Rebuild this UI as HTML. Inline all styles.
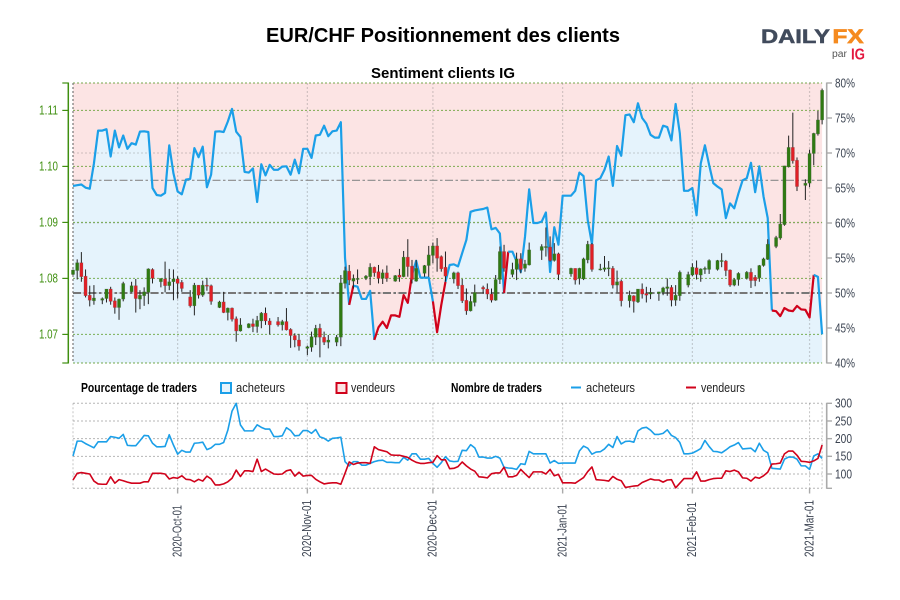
<!DOCTYPE html>
<html lang="fr">
<head>
<meta charset="utf-8">
<title>EUR/CHF Positionnement des clients</title>
<style>
html,body{margin:0;padding:0;background:#fff;width:900px;height:600px;overflow:hidden}
svg{display:block;font-family:"Liberation Sans Narrow","Liberation Sans",sans-serif}
.wide{font-family:"Liberation Sans",sans-serif}
</style>
</head>
<body>
<svg id="chart" xmlns="http://www.w3.org/2000/svg" width="900" height="600" viewBox="0 0 900 600">
  <rect width="900" height="600" fill="#fff"/>
  <text class="wide" x="266" y="42" font-size="20" font-weight="bold" fill="#000" textLength="354" lengthAdjust="spacingAndGlyphs">EUR/CHF Positionnement des clients</text>
  <text class="wide" x="371" y="78" font-size="15" font-weight="bold" fill="#000" textLength="144" lengthAdjust="spacingAndGlyphs">Sentiment clients IG</text>

  <g>
    <text class="wide" x="761" y="43" font-size="19.5" font-weight="bold" fill="#414b5c" stroke="#414b5c" stroke-width=".5" textLength="69" lengthAdjust="spacingAndGlyphs">DAILY</text>
    <text class="wide" x="832.500" y="43" font-size="19.5" font-weight="bold" fill="#f58a1f" stroke="#f58a1f" stroke-width=".7" textLength="31" lengthAdjust="spacingAndGlyphs">FX</text>
    <text class="wide" x="832" y="57" font-size="10" fill="#555" textLength="15" lengthAdjust="spacingAndGlyphs">par</text>
    <text class="wide" x="851" y="59.500" font-size="15.500" font-weight="bold" fill="#e3173e" textLength="14" lengthAdjust="spacingAndGlyphs">IG</text>
  </g>

  <g id="upper-panel"></g>
  <g id="lower-panel"></g>

  <g font-size="12.5" fill="#222">
    <text x="81" y="392" font-weight="bold" fill="#000" textLength="116" lengthAdjust="spacingAndGlyphs">Pourcentage de traders</text>
    <rect x="221" y="383" width="10" height="10" fill="#e5f3fc" stroke="#1b9fe8" stroke-width="2"/>
    <text x="236" y="392" textLength="49" lengthAdjust="spacingAndGlyphs">acheteurs</text>
    <rect x="336.500" y="383" width="10" height="10" fill="#fce4e4" stroke="#d0021b" stroke-width="2"/>
    <text x="351" y="392" textLength="44" lengthAdjust="spacingAndGlyphs">vendeurs</text>
    <text x="451" y="392" font-weight="bold" fill="#000" textLength="91" lengthAdjust="spacingAndGlyphs">Nombre de traders</text>
    <line x1="571" x2="581" y1="387.500" y2="387.500" stroke="#1b9fe8" stroke-width="2"/>
    <text x="586" y="392" textLength="49" lengthAdjust="spacingAndGlyphs">acheteurs</text>
    <line x1="686" x2="696" y1="387.500" y2="387.500" stroke="#d0021b" stroke-width="2"/>
    <text x="701" y="392" textLength="44" lengthAdjust="spacingAndGlyphs">vendeurs</text>
  </g>
</svg>
<script>
// ---- data ----
// Day index 0 = 2020-09-06, one entry per calendar day through 2021-03-04.
const sentimentPct = [65.3,65.4,65.5,65.05,64.9,68.5,73.2,73.2,73.4,69.5,73.2,70.8,72.5,70.6,71.4,71.2,73.05,73.1,73,65,64,63.9,64.3,71.1,67.1,64.5,64.1,66.2,66.3,70.7,69.4,70.9,65.1,66.9,73.05,73.1,73,74.5,76.3,73.05,72.3,67.3,67.2,67.8,63,68.4,66.8,68.3,67.6,67.6,68.05,68.1,66.9,69.05,67.1,70.6,70.6,69.3,72.5,72.6,73.9,72.4,73.1,73.2,74.4,55,48.3,51.05,50.9,49.15,49.15,50.3,43.3,45.1,45.9,45,46.8,46.8,46.6,49.7,48.6,52.6,54.6,52.2,52.2,52.2,48.8,44.4,48.3,51.6,54,54.1,53.8,55.7,57.6,61.6,61.8,61.9,62,62.2,59.1,59.3,58.5,50,55.9,55.9,54.5,53,58,64.8,60,60,60.2,61.5,53,59.4,56.9,63.9,63.9,63.9,64.6,67.2,66.7,60.4,57,66.1,66.4,67.6,69.5,65.3,71,69.6,75.4,75.5,74.4,77.1,75,74.2,72.6,72.2,72.2,73.9,73.7,71.8,77,72.8,64.6,64.6,65,61.1,68.5,71.1,68.3,65.7,65.2,64.8,60.7,62.8,62.1,64.2,66.1,66.4,68.6,64.4,68.1,63.8,60.7,47.5,47.4,46.7,47.85,47.5,47.4,48.15,47.65,47.6,46.5,52.6,52.3,44.1];
// Day-index ranges where the sentiment line is drawn in the seller colour.
const sellerRuns = [[66,67],[72,81],[86,89],[103,104],[167,177]];
const buyersCount = [151,193,193,186,180,174,191,191,191,206,204,201,212,181,180,180,194,209,208,187,177,177,178,211,182,156,167,162,162,187,188,190,169,174,184,184,189,224,278,300,239,222,222,222,239,232,227,227,206,206,208,231,223,208,209,223,223,215,226,205,201,193,201,202,204,135,123,135,135,125,125,130,135,138,139,133,133,132,132,147,139,157,157,142,142,144,130,119,132,149,137,135,136,167,166,183,174,148,148,145,145,150,145,119,117,116,113,129,127,164,157,157,157,157,131,138,130,131,131,131,131,165,179,173,156,162,163,171,184,175,206,185,192,193,190,222,230,232,224,212,212,215,225,209,203,189,157,157,159,165,172,195,178,164,163,160,168,177,182,189,171,172,173,163,187,167,160,116,115,114,142,148,148,142,123,123,113,151,157,144];
const sellersCount = [83,102,104,102,100,80,72,71,71,92,74,84,81,77,74,74,74,78,78,102,102,102,100,86,90,88,95,85,84,78,85,80,94,86,69,69,72,78,88,111,93,109,109,107,142,107,114,107,100,99,100,109,112,94,105,94,96,96,85,78,72,74,75,75,71,102,134,127,131,132,132,130,177,169,166,163,154,153,153,150,147,139,133,130,130,132,133,152,140,140,115,116,121,134,123,114,108,92,91,89,101,103,103,119,92,92,96,113,101,90,106,106,106,100,113,95,99,75,75,75,74,82,90,107,120,84,83,82,80,93,85,81,62,64,66,67,76,81,86,83,83,77,83,84,61,74,87,87,87,106,80,80,84,87,88,88,109,107,111,106,89,88,80,91,88,95,105,128,129,131,157,165,165,153,136,135,133,137,144,182];
// EUR/CHF candles, prices in units of 0.0001.
const candleDays = [0,1,2,3,4,5,7,8,9,10,11,12,14,15,16,17,18,19,21,22,23,24,25,26,28,29,30,31,32,33,35,36,37,38,39,40,42,43,44,45,46,47,49,50,51,52,53,54,56,57,58,59,60,61,63,64,65,66,67,68,70,71,72,73,74,75,77,78,79,80,81,82,84,85,86,87,88,89,91,92,93,94,95,96,98,99,100,101,102,103,105,106,107,108,109,112,113,114,115,116,119,120,121,122,123,124,126,127,128,129,130,131,133,134,135,136,137,138,140,141,142,143,144,145,147,148,149,150,151,152,154,155,156,157,158,159,161,162,163,164,165,166,168,169,170,171,172,173,175,176,177,178,179];
const candleOpen = [10807,10814,10828,10804,10770,10760,10761,10764,10781,10760,10748,10763,10776,10787,10763,10769,10775,10816,10794,10799,10787,10794,10799,10793,10767,10751,10788,10770,10788,10787,10748,10758,10739,10747,10728,10706,10712,10719,10714,10724,10738,10724,10723,10717,10723,10709,10698,10690,10675,10677,10695,10711,10695,10686,10686,10695,10791,10813,10795,10798,10800,10803,10820,10812,10800,10810,10795,10806,10803,10838,10822,10795,10809,10823,10841,10858,10839,10820,10799,10810,10788,10761,10742,10757,10784,10781,10772,10761,10798,10848,10807,10816,10835,10818,10824,10850,10855,10856,10832,10844,10808,10818,10800,10799,10833,10861,10815,10816,10817,10818,10788,10795,10760,10769,10758,10781,10773,10772,10773,10775,10782,10784,10761,10769,10788,10806,10819,10806,10816,10816,10816,10830,10831,10815,10788,10798,10800,10811,10802,10801,10823,10834,10857,10872,10896,10999,11034,11011,10966,10970,11023,11058,11083];
const candleHigh = [10816,10834,10847,10816,10787,10788,10766,10781,10785,10766,10764,10794,10794,10799,10779,10784,10818,10818,10800,10830,10817,10816,10804,10797,10779,10792,10788,10796,10801,10789,10760,10776,10748,10748,10732,10729,10720,10728,10733,10740,10748,10729,10731,10726,10747,10711,10702,10701,10680,10705,10717,10719,10705,10699,10699,10806,10821,10824,10807,10816,10806,10827,10821,10824,10816,10823,10806,10817,10849,10870,10833,10833,10824,10858,10864,10872,10841,10848,10812,10812,10799,10782,10769,10789,10787,10791,10782,10806,10857,10860,10828,10846,10845,10833,10864,10861,10891,10875,10863,10846,10819,10818,10819,10837,10867,10863,10826,10840,10831,10822,10814,10798,10778,10770,10781,10791,10785,10783,10776,10785,10800,10788,10788,10814,10812,10827,10832,10818,10821,10834,10833,10845,10833,10816,10800,10811,10813,10818,10806,10824,10837,10870,10876,10915,11001,11055,11096,11016,10977,11030,11060,11099,11139];
const candleLow = [10806,10798,10794,10766,10750,10753,10754,10757,10753,10737,10726,10759,10775,10739,10745,10751,10754,10791,10784,10775,10779,10761,10764,10776,10748,10734,10764,10767,10778,10753,10747,10738,10725,10723,10687,10705,10711,10704,10703,10711,10717,10700,10714,10707,10707,10676,10677,10671,10663,10669,10681,10659,10681,10675,10679,10679,10782,10788,10782,10790,10797,10788,10803,10791,10790,10794,10794,10794,10802,10803,10791,10794,10803,10803,10827,10812,10812,10794,10791,10781,10756,10735,10741,10750,10773,10763,10757,10760,10790,10812,10802,10797,10809,10812,10823,10833,10839,10830,10830,10797,10803,10789,10789,10797,10827,10812,10814,10812,10804,10782,10775,10750,10748,10739,10756,10764,10757,10763,10760,10770,10769,10750,10751,10760,10784,10804,10798,10794,10808,10808,10814,10820,10804,10785,10786,10787,10798,10783,10786,10794,10821,10833,10854,10869,10894,10998,11005,10956,10940,10963,11002,11055,11075];
const candleClose = [10815,10828,10803,10769,10761,10765,10764,10781,10759,10748,10763,10791,10787,10764,10770,10776,10817,10800,10800,10787,10794,10799,10791,10782,10751,10788,10770,10788,10786,10759,10758,10739,10747,10727,10706,10717,10719,10714,10725,10738,10724,10717,10717,10723,10708,10698,10690,10679,10678,10696,10711,10695,10686,10690,10695,10792,10814,10797,10800,10800,10804,10820,10810,10800,10810,10800,10805,10802,10838,10821,10798,10818,10823,10842,10858,10836,10817,10804,10810,10787,10760,10742,10759,10775,10781,10772,10761,10798,10848,10818,10816,10835,10816,10826,10851,10857,10857,10832,10844,10807,10818,10797,10818,10835,10861,10816,10817,10819,10819,10788,10794,10760,10770,10759,10781,10772,10770,10775,10776,10783,10785,10761,10770,10811,10807,10820,10807,10817,10818,10832,10832,10832,10814,10788,10798,10809,10811,10796,10796,10823,10835,10861,10873,10897,11001,11034,11010,10964,10970,11023,11059,11083,11136];
// Axis ticks and labels.
const priceTicks = [1.07,1.08,1.09,1.10,1.11];
const priceTickLabels = ['1.07','1.08','1.09','1.10','1.11'];
const pctTicks = [40,45,50,55,60,65,70,75,80];
const pctGridTicks = [40,50,60,70,80];
const countTicks = [100,150,200,250,300];
const dateTickDays = [25,56,86,117,148,176];
const dateTickLabels = ['2020-Oct-01','2020-Nov-01','2020-Dec-01','2021-Jan-01','2021-Feb-01','2021-Mar-01'];
const dateLabelLengths = [52,57,57,53,55,57];
const referenceLevels = [{pct:66.1,width:1.2,color:'#8a8a8a'},{pct:50,width:2,color:'#777'}];

// ---- axis functions ----
const xDay = d => 73 + 4.185 * d;
const yPct = p => 83 + (80 - p) * 7;
const yPrice = p => 334.4 - (p - 1.07) * 5600;
const yCount = v => 403.3 + (300 - v) * 0.3535;

const NS = 'http://www.w3.org/2000/svg';
const upper = document.getElementById('upper-panel');
const lower = document.getElementById('lower-panel');
function make(parent, tag, attrs, text) {
  const el = document.createElementNS(NS, tag);
  for (const k in attrs) el.setAttribute(k, attrs[k]);
  if (text !== undefined) el.textContent = text;
  parent.appendChild(el);
  return el;
}
const LAST = sentimentPct.length - 1;
let el;

// ---- upper panel ----
el = make(upper, 'rect', {x: xDay(0), y: yPct(80), width: xDay(LAST) - xDay(0), height: yPct(40) - yPct(80), fill: '#fce4e4'});



const areaPoints = sentimentPct.map((v, i) => xDay(i).toFixed(2) + ',' + yPct(v).toFixed(2));
areaPoints.push(xDay(LAST) + ',' + yPct(40), xDay(0) + ',' + yPct(40));
el = make(upper, 'polygon', {points: areaPoints.join(' '), fill: '#e5f3fc'});



pctGridTicks.forEach(t => {
  el = make(upper, 'line', {x1: xDay(0), x2: xDay(LAST), y1: yPct(t), y2: yPct(t), stroke: 'rgba(110,110,110,.32)', 'stroke-width': 1, 'stroke-dasharray': '2 2'});
  
  
});
[yPct(80), yPct(40)].concat(priceTicks.map(yPrice)).forEach(y => {
  el = make(upper, 'line', {x1: xDay(0), x2: xDay(LAST), y1: y, y2: y, stroke: '#5d9e2a', 'stroke-opacity': .8, 'stroke-width': 1, 'stroke-dasharray': '2 2'});
  
  
});
dateTickDays.forEach(d => {
  el = make(upper, 'line', {x1: xDay(d), x2: xDay(d), y1: 83, y2: 363, stroke: 'rgba(110,110,110,.3)', 'stroke-width': 1.2, 'stroke-dasharray': '2 2'});
  
  
});
el = make(upper, 'line', {x1: xDay(0), x2: xDay(0), y1: 83, y2: 363, stroke: '#777', 'stroke-width': 1.2, 'stroke-dasharray': '2 2'});



referenceLevels.forEach(r => {
  el = make(upper, 'line', {x1: xDay(0), x2: xDay(LAST), y1: yPct(r.pct), y2: yPct(r.pct), stroke: r.color, 'stroke-width': r.width, 'stroke-dasharray': '8 2.5 2.5 2.5'});
  
  
});

// sentiment line, split into buyer / seller coloured segments
const isSeller = i => sellerRuns.some(r => i >= r[0] && i < r[1]);
let segStart = 0;
for (let i = 1; i <= LAST; i++) {
  if (i === LAST || isSeller(i) !== isSeller(segStart)) {
    const pts = [];
    for (let j = segStart; j <= i; j++) pts.push(xDay(j).toFixed(2) + ',' + yPct(sentimentPct[j]).toFixed(2));
    el = make(upper, 'polyline', {points: pts.join(' '), fill: 'none', stroke: isSeller(segStart) ? '#d0021b' : '#1b9fe8', 'stroke-width': 2.2, 'stroke-linejoin': 'round'});
    
    
    segStart = i;
  }
}

// candles
candleDays.forEach((d, i) => {
  const o = candleOpen[i] / 10000, c = candleClose[i] / 10000;
  const h = candleHigh[i] / 10000, l = candleLow[i] / 10000;
  const up = c >= o;
  const x = xDay(d);
  el = make(upper, 'line', {x1: x, x2: x, y1: yPrice(h), y2: yPrice(l), stroke: '#222', 'stroke-width': 1});
  
  
  const top = yPrice(Math.max(o, c));
  const hgt = Math.max(yPrice(Math.min(o, c)) - top, 1);
  el = make(upper, 'rect', {x: x - 1.6, y: top, width: 3.2, height: hgt, fill: up ? '#2f7a12' : '#e01f26', stroke: 'rgba(90,90,90,.35)', 'stroke-width': .6});
  
  
});

// left price axis
el = make(upper, 'line', {x1: 68.3, x2: 68.3, y1: 82.5, y2: 363.5, stroke: '#3f8f10', 'stroke-width': 1.5});


[yPct(80), yPct(40)].forEach(y => {
  el = make(upper, 'line', {x1: 62.3, x2: 68.3, y1: y, y2: y, stroke: '#3f8f10', 'stroke-width': 1.2});
  
  
});
priceTicks.forEach((t, i) => {
  const y = yPrice(t);
  el = make(upper, 'line', {x1: 62.3, x2: 68.3, y1: y, y2: y, stroke: '#3f8f10', 'stroke-width': 1.2});
  
  
  el = make(upper, 'text', {x: 39, y: y + 4.3, 'font-size': 12.5, fill: '#3f8f10', textLength: 19, lengthAdjust: 'spacingAndGlyphs'}, priceTickLabels[i]);
  
  
});

// right percent axis
el = make(upper, 'line', {x1: 826.7, x2: 826.7, y1: 82.5, y2: 363.5, stroke: '#aaa', 'stroke-width': 1.6});


pctTicks.forEach(t => {
  const y = yPct(t);
  el = make(upper, 'line', {x1: 826.7, x2: 832, y1: y, y2: y, stroke: '#aaa', 'stroke-width': 1.4});
  
  
  el = make(upper, 'text', {x: 835, y: y + 4.3, 'font-size': 12.5, fill: '#3a4250', textLength: 20, lengthAdjust: 'spacingAndGlyphs'}, t + '%');
  
  
});

// ---- lower panel ----
const countBottom = 488.3;
countTicks.forEach(t => {
  el = make(lower, 'line', {x1: xDay(0), x2: xDay(LAST), y1: yCount(t), y2: yCount(t), stroke: 'rgba(110,110,110,.5)', 'stroke-width': 1, 'stroke-dasharray': '2 2'});
  
  
});
el = make(lower, 'line', {x1: xDay(0), x2: xDay(LAST), y1: countBottom, y2: countBottom, stroke: 'rgba(110,110,110,.5)', 'stroke-width': 1, 'stroke-dasharray': '2 2'});


[0, LAST].concat(dateTickDays).forEach(d => {
  el = make(lower, 'line', {x1: xDay(d), x2: xDay(d), y1: yCount(300), y2: countBottom, stroke: 'rgba(110,110,110,.4)', 'stroke-width': 1, 'stroke-dasharray': '2 2'});
  
  
});
const linePoints = arr => arr.map((v, i) => xDay(i).toFixed(2) + ',' + yCount(v).toFixed(2)).join(' ');
el = make(lower, 'polyline', {points: linePoints(buyersCount), fill: 'none', stroke: '#1b9fe8', 'stroke-width': 1.6, 'stroke-linejoin': 'round'});


el = make(lower, 'polyline', {points: linePoints(sellersCount), fill: 'none', stroke: '#d0021b', 'stroke-width': 1.6, 'stroke-linejoin': 'round'});



el = make(lower, 'line', {x1: 826.7, x2: 826.7, y1: yCount(300) - .5, y2: countBottom + .5, stroke: '#aaa', 'stroke-width': 1.6});


el = make(lower, 'line', {x1: 826.7, x2: 832, y1: countBottom, y2: countBottom, stroke: '#aaa', 'stroke-width': 1.4});


countTicks.forEach(t => {
  const y = yCount(t);
  el = make(lower, 'line', {x1: 826.7, x2: 832, y1: y, y2: y, stroke: '#aaa', 'stroke-width': 1.4});
  
  
  el = make(lower, 'text', {x: 835, y: y + 4.3, 'font-size': 12.5, fill: '#3a4250', textLength: 17, lengthAdjust: 'spacingAndGlyphs'}, String(t));
  
  
});

dateTickDays.forEach((d, i) => {
  const x = xDay(d);
  el = make(lower, 'line', {x1: x, x2: x, y1: countBottom, y2: 493.5, stroke: '#aaa', 'stroke-width': 1.4});
  
  
  el = make(lower, 'text', {transform: 'translate(' + (x + 3.8) + ',557) rotate(-90)', 'font-size': 12.5, fill: '#3a4250', textLength: dateLabelLengths[i], lengthAdjust: 'spacingAndGlyphs'}, dateTickLabels[i]);
  
  
});
</script>
</body>
</html>
